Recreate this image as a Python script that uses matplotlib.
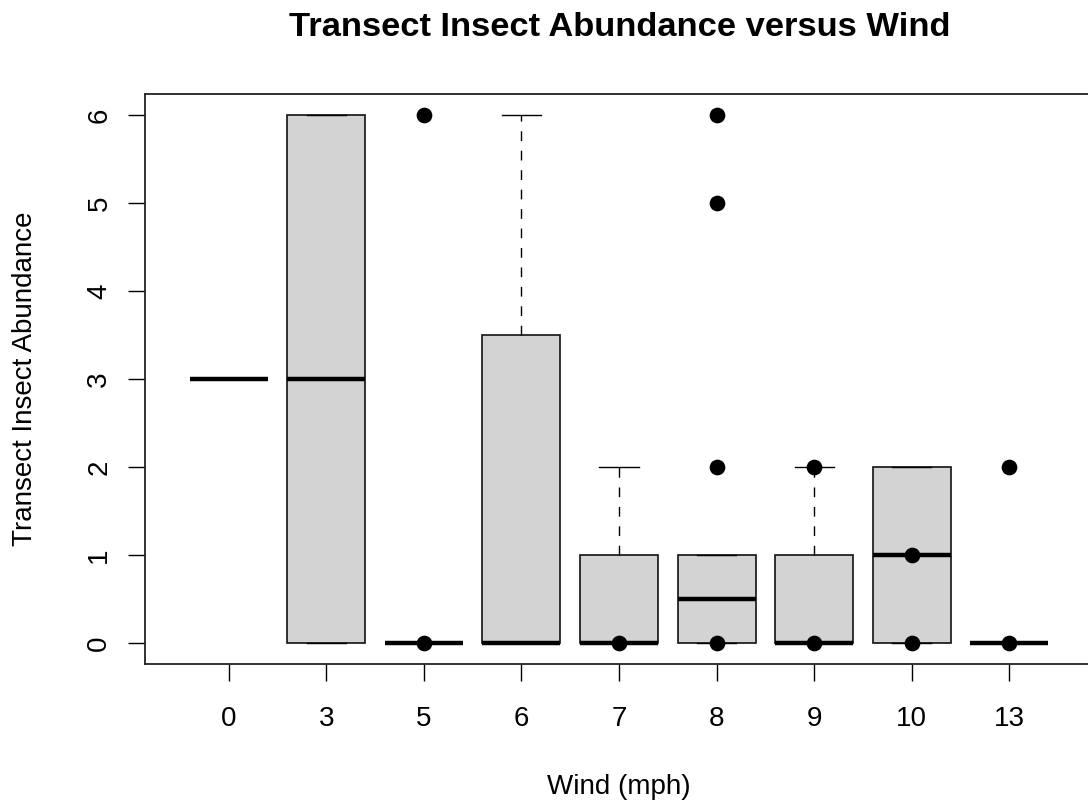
import numpy as np
import matplotlib.pyplot as plt

plt.rcParams['font.family'] = ['Liberation Sans', 'DejaVu Sans']

# wind speed groups and their box statistics
winds = ['0', '3', '5', '6', '7', '8', '9', '10', '13']
whislo = [3, 0, 0, 0, 0, 0, 0, 0, 0]
q1 = [3, 0, 0, 0, 0, 0, 0, 0, 0]
med = [3, 3, 0, 0, 0, 0.5, 0, 1, 0]
q3 = [3, 6, 0, 3.5, 1, 1, 1, 2, 0]
whishi = [3, 6, 0, 6, 2, 1, 2, 2, 0]

# individual points drawn on top of the boxes
dots = [[], [], [6, 0], [], [0], [6, 5, 2, 0], [2, 0], [1, 0], [2, 0]]

stats = []
for i, w in enumerate(winds):
    stats.append(dict(label=w, whislo=whislo[i], q1=q1[i], med=med[i],
                      q3=q3[i], whishi=whishi[i], fliers=[]))

fig = plt.figure(figsize=(10.88, 8.07), dpi=100)
ax = fig.add_axes([145/1088, 1-664/807, 948/1088, 570/807])

pos = np.arange(1, len(winds)+1)
ax.bxp(stats, positions=pos, widths=0.8, capwidths=0.4, patch_artist=True,
       showfliers=False,
       boxprops=dict(facecolor='#d3d3d3', edgecolor='#111111', linewidth=1.2),
       whiskerprops=dict(color='black', linewidth=1.0, linestyle=(0, (7, 7))),
       capprops=dict(color='black', linewidth=1.0),
       medianprops=dict(color='black', linewidth=3.2, solid_capstyle='butt'))

for p, ys in zip(pos, dots):
    if ys:
        ax.plot([p]*len(ys), ys, 'o', color='black', ms=10.3, zorder=5)

ax.set_xlim(0.5 - 0.36, 9.5 + 0.36)
ax.set_ylim(-0.24, 6.24)
ax.set_xticks(pos)
ax.set_xticklabels(winds)
ax.set_yticks(range(7))
for lab in ax.get_yticklabels():
    lab.set_rotation(90)
    lab.set_va('center')

ax.tick_params(axis='x', length=12, width=1, pad=18, labelsize=20)
ax.tick_params(axis='y', length=12.5, width=1, pad=11, labelsize=20)
for s in ax.spines.values():
    s.set_linewidth(1.3)
    s.set_color('#222222')

ax.set_xlabel('Wind (mph)', fontsize=20)
ax.xaxis.label.set_va('center')
ax.xaxis.set_label_coords(0.5, -0.216)
ax.set_ylabel('Transect Insect Abundance', fontsize=20)
ax.yaxis.label.set_va('center')
ax.yaxis.set_label_coords(-0.1266, 0.5)

fig.text(620/1088, 1-28/807, 'Transect Insect Abundance versus Wind',
         ha='center', va='center', fontsize=24.8, fontweight='bold')

fig.savefig('out.png', dpi=100)
